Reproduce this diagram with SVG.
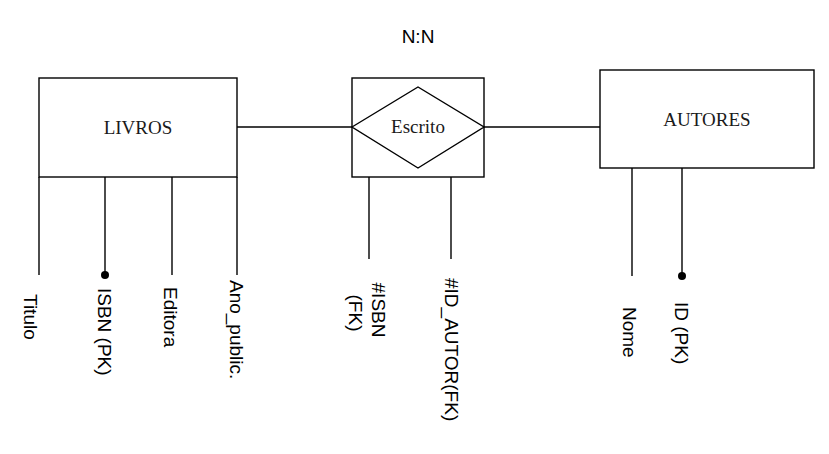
<svg xmlns="http://www.w3.org/2000/svg" width="829" height="454" viewBox="0 0 829 454">
<style>
.box{fill:#fff;stroke:#000;stroke-width:1.4}
.ln{fill:none;stroke:#000;stroke-width:1.4}
.ent{font-family:"Liberation Serif","Times New Roman",serif;font-size:19px;fill:#1a1a1a;text-anchor:middle}
.att{font-family:"Liberation Sans",Arial,sans-serif;font-size:19px;fill:#000}
.dot{fill:#000}
</style>
<rect width="829" height="454" fill="#fff"/>
<g id="connectors">
<line class="ln" x1="237" y1="127" x2="352" y2="127"/>
<line class="ln" x1="484" y1="127" x2="600" y2="127"/>
</g>
<g id="livros">
<rect class="box" x="39" y="78" width="198" height="99"/>
<text class="ent" x="138" y="134">LIVROS</text>
<line class="ln" x1="39" y1="177" x2="39" y2="275"/>
<line class="ln" x1="105" y1="177" x2="105" y2="275"/>
<circle class="dot" cx="105" cy="275" r="4"/>
<line class="ln" x1="172" y1="177" x2="172" y2="275"/>
<line class="ln" x1="237" y1="177" x2="237" y2="275"/>
<text class="att" transform="translate(24,294) rotate(90)">Titulo</text>
<text class="att" transform="translate(98,288) rotate(90)">ISBN (PK)</text>
<text class="att" transform="translate(164,287) rotate(90)">Editora</text>
<text class="att" transform="translate(230,280) rotate(90)">Ano_public.</text>
</g>
<g id="escrito">
<text class="att" x="418" y="43" text-anchor="middle" font-size="18">N:N</text>
<rect class="box" x="352" y="78" width="132" height="99"/>
<polygon class="ln" points="352,127 418,87 484,127 418,168"/>
<text class="ent" x="418" y="133">Escrito</text>
<line class="ln" x1="369" y1="177" x2="369" y2="259"/>
<line class="ln" x1="451" y1="177" x2="451" y2="259"/>
<text class="att" text-anchor="middle" transform="translate(372,310) rotate(90)">#ISBN</text>
<text class="att" text-anchor="middle" transform="translate(349,313) rotate(90)">(FK)</text>
<text class="att" transform="translate(445,278) rotate(90)">#ID_AUTOR(FK)</text>
</g>
<g id="autores">
<rect class="box" x="600" y="70" width="214" height="98"/>
<text class="ent" x="707" y="126">AUTORES</text>
<line class="ln" x1="632" y1="168" x2="632" y2="276"/>
<line class="ln" x1="682" y1="168" x2="682" y2="276"/>
<circle class="dot" cx="682" cy="276" r="4"/>
<text class="att" transform="translate(623,307) rotate(90)">Nome</text>
<text class="att" transform="translate(675,302) rotate(90)">ID (PK)</text>
</g>
</svg>
